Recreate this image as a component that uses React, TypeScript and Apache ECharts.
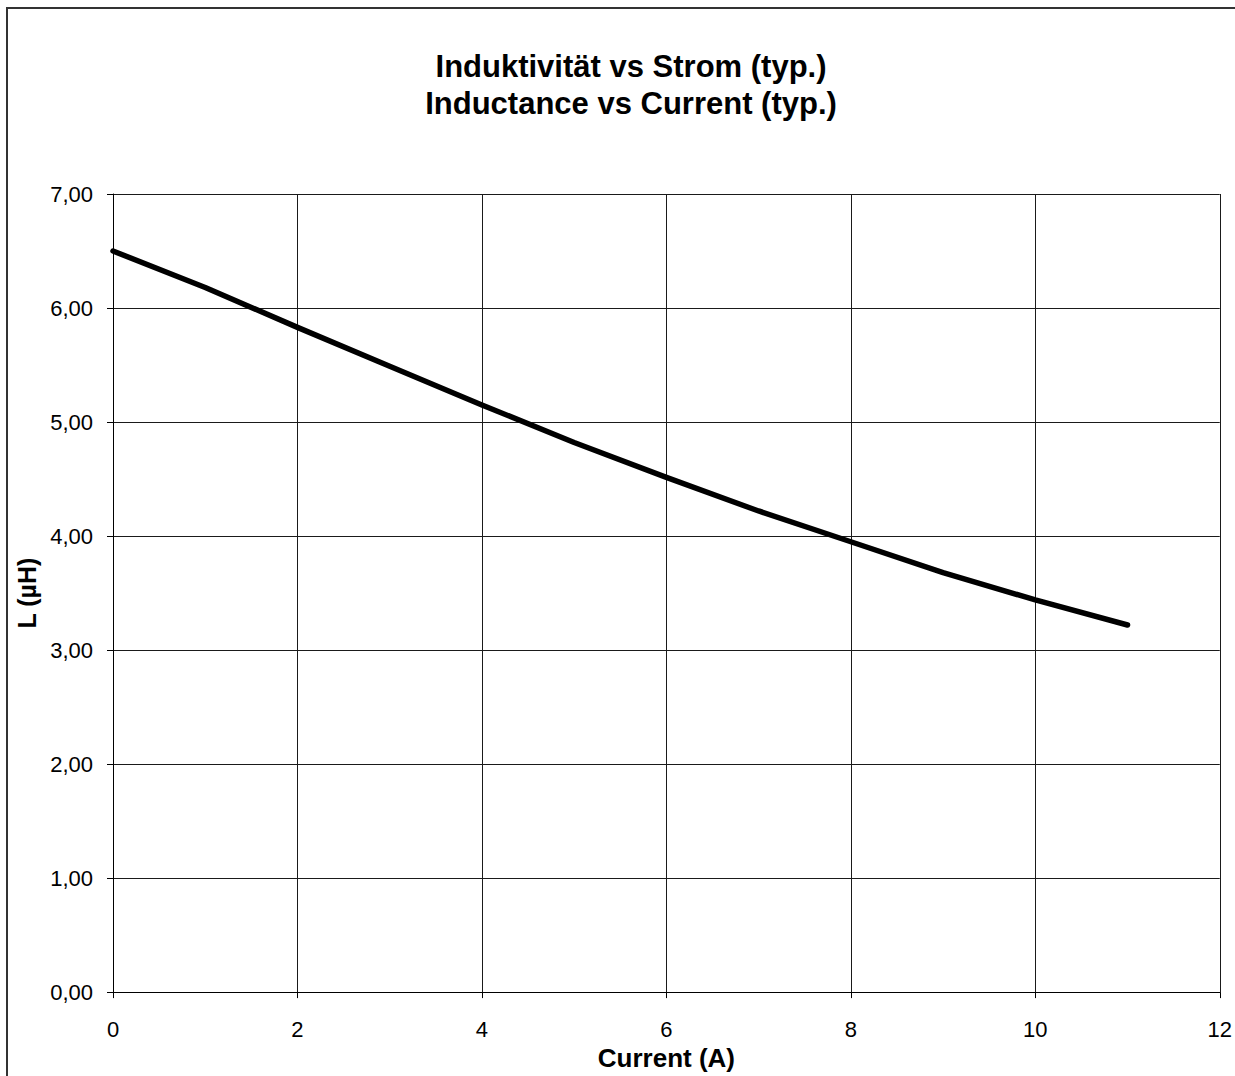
import React, { useEffect, useRef } from "react";
import * as echarts from "echarts";

const titleLines = ["Induktivität vs Strom (typ.)", "Inductance vs Current (typ.)"];
const xAxisName = "Current (A)";
const yAxisName = "L (µH)";
const currentA = [0, 1, 2, 3, 4, 5, 6, 7, 8, 9, 10, 11];
const inductanceUH = [6.5, 6.18, 5.83, 5.49, 5.15, 4.82, 4.515, 4.22, 3.95, 3.68, 3.44, 3.22];

const FONT = "'Liberation Sans', Arial, sans-serif";

export default function App() {
  const ref = useRef<HTMLDivElement>(null);
  useEffect(() => {
    if (!ref.current) return;
    const chart = echarts.init(ref.current, undefined, { renderer: "svg" });
    chart.setOption({
      animation: false,
      backgroundColor: "#ffffff",
      textStyle: { fontFamily: FONT },
      title: {
        text: titleLines.join("\n"),
        left: 626,
        top: 43,
        textAlign: "center",
        textStyle: {
          fontFamily: FONT,
          fontSize: 31,
          fontWeight: "bold",
          color: "#000",
          lineHeight: 37,
        },
      },
      graphic: [
        {
          type: "rect",
          shape: { x: 7, y: 8, width: 1400, height: 1200 },
          style: { fill: "none", stroke: "#333", lineWidth: 2 },
          silent: true,
        },
      ],
      grid: { left: 113, top: 194, right: 12, bottom: 83, containLabel: false },
      xAxis: {
        type: "value",
        min: 0,
        max: 12,
        interval: 2,
        name: xAxisName,
        nameLocation: "middle",
        nameGap: 36,
        nameTextStyle: { fontFamily: FONT, fontSize: 26, fontWeight: "bold", color: "#000" },
        axisLine: { show: true, lineStyle: { color: "#000", width: 1 } },
        axisTick: { show: true, inside: false, length: 6, lineStyle: { color: "#000" } },
        axisLabel: { margin: 26, fontFamily: FONT, fontSize: 22, color: "#000" },
        splitLine: { show: true, lineStyle: { color: "#1a1a1a", width: 1 } },
      },
      yAxis: {
        type: "value",
        min: 0,
        max: 7,
        interval: 1,
        name: yAxisName,
        nameLocation: "middle",
        nameGap: 68,
        nameRotate: 90,
        nameTextStyle: { fontFamily: FONT, fontSize: 25, fontWeight: "bold", color: "#000" },
        axisLine: { show: true, lineStyle: { color: "#000", width: 1 } },
        axisTick: { show: true, inside: false, length: 6, lineStyle: { color: "#000" } },
        axisLabel: {
          margin: 20,
          fontFamily: FONT,
          fontSize: 22,
          color: "#000",
          formatter: (v: number) => v.toFixed(2).replace(".", ","),
        },
        splitLine: { show: true, lineStyle: { color: "#1a1a1a", width: 1 } },
      },
      series: [
        {
          type: "line",
          data: currentA.map((x, i) => [x, inductanceUH[i]]),
          showSymbol: false,
          symbol: "none",
          lineStyle: { color: "#000", width: 5.5, cap: "round", join: "round" },
          smooth: false,
        },
      ],
    });
    return () => chart.dispose();
  }, []);
  return (
    <div
      ref={ref}
      style={{ position: "absolute", left: 0, top: 0, width: 1235, height: 1076 }}
    />
  );
}
